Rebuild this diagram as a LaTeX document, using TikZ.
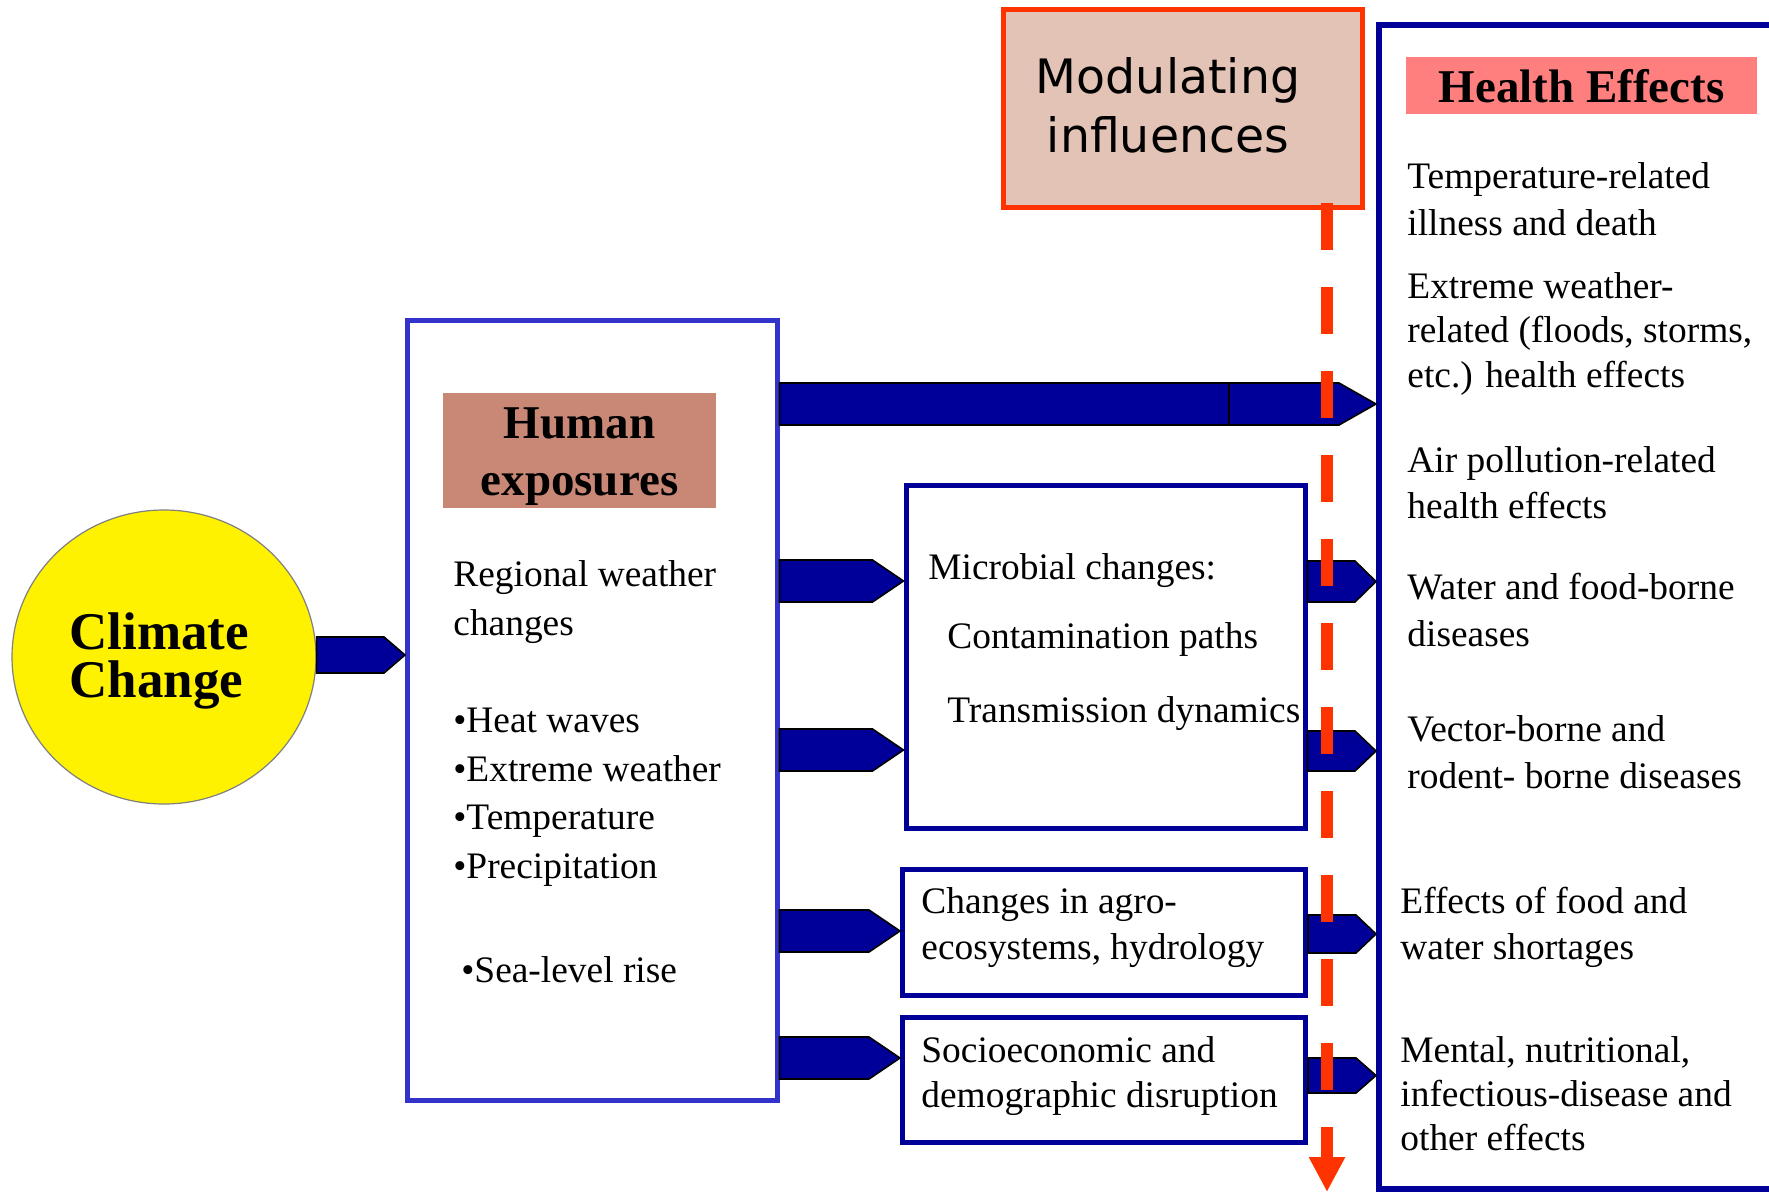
\documentclass[tikz,border=0pt]{standalone}
\usepackage{fontspec}
\setmainfont{Liberation Serif}
\newfontfamily\modfont{DejaVu Sans}
\usetikzlibrary{arrows.meta, calc, shapes.geometric}
\definecolor{ArrowNavy}{RGB}{0,0,153}
\definecolor{ExpoBlue}{RGB}{51,51,204}
\definecolor{ExpoTan}{RGB}{201,136,118}
\definecolor{HealthPink}{RGB}{255,127,127}
\definecolor{ModFill}{RGB}{227,195,181}
\definecolor{ModRed}{RGB}{255,51,0}

\begin{document}
\begin{tikzpicture}[
  x=0.5pt, y=-0.5pt,
  every node/.style={inner sep=0pt},
  body/.style={font=\fontsize{18.7}{#1}\selectfont, align=left, anchor=base west},
  body/.default=23pt,
  heading/.style={font=\fontsize{23.5}{28.5}\selectfont\bfseries, align=center, anchor=base},
  panel/.style args={#1, #2}{draw=#1, line width=#2},
  flow/.style 2 args={fill=ArrowNavy, draw=black, line width=0.8pt, line join=miter,
    to path={($(\tikztostart)+(0,-#1)$) -- ($(\tikztotarget)+(-#2,-#1)$) -- (\tikztotarget)
      -- ($(\tikztotarget)+(-#2,#1)$) -- ($(\tikztostart)+(0,#1)$) -- cycle}},
  modline/.style={draw=ModRed, line width=6pt, dash pattern=on 23.5pt off 18.5pt,
    -{Triangle[length=17.5pt, width=17pt]}}
  ]
\useasboundingbox (0,0) rectangle (1769,1194);
\fill[white] (0,0) rectangle (1769,1194);
\clip (0,0) rectangle (1769,1194);

% Climate change
\node[ellipse, fill=yellow, draw=gray, line width=0.6pt, minimum width=152pt, minimum height=147pt] (climate) at (164,657) {};
\node[font=\fontsize{26.5}{24}\selectfont\bfseries, align=left, anchor=base west] (cctext) at (69,697) {Climate\\Change};

% Human exposures
\node[panel={ExpoBlue, 2.5pt}, minimum width=184.75pt, minimum height=390pt] (expo) at (592.25,710) {};
\node[fill=ExpoTan, minimum width=136.5pt, minimum height=57.5pt] (expolabel) at (579.5,450.5) {};
\node[heading] (expotext) at (579.5,495) {Human\\exposures};
\node[body=24.5pt] (weather) at (453,635) {Regional weather\\changes};
\node[body=24.25pt] (hazards) at (453,878) {•Heat waves\\•Extreme weather\\•Temperature\\•Precipitation};
\node[body] (sealevel) at (461,982) {•Sea-level rise};

% Middle boxes
\node[panel={ArrowNavy, 2.5pt}, minimum width=199.5pt, minimum height=171.5pt] (micro) at (1105.5,656.5) {};
\node[body] (microtext) at (928,579) {Microbial changes:};
\node[body] (paths) at (947,648) {Contamination paths};
\node[body] (dynamics) at (947,722) {Transmission dynamics};

\node[panel={ArrowNavy, 2.5pt}, minimum width=201.5pt, minimum height=63pt] (agro) at (1104,932) {};
\node[body] (agrotext) at (921,959) {Changes in agro-\\ecosystems, hydrology};

\node[panel={ArrowNavy, 2.5pt}, minimum width=201.5pt, minimum height=62.5pt] (socio) at (1104,1079.5) {};
\node[body=22.5pt] (sociotext) at (921,1107) {Socioeconomic and\\demographic disruption};

% Modulating influences
\node[panel={ModRed, 2.5pt}, fill=ModFill, minimum width=179.5pt, minimum height=99pt] (modul) at (1182.5,108) {};
\node[font=\modfont\fontsize{23.7}{29.5}\selectfont, align=center, anchor=base] (modtext) at (1168,152) {Modulating\\influences};

% Health effects
\node[panel={ArrowNavy, 3pt}, minimum width=260.5pt, minimum height=582pt] (health) at (1639.5,607) {};
\node[fill=HealthPink, minimum width=175.5pt, minimum height=28.5pt] (healthlabel) at (1581.5,85.5) {};
\node[heading] (healthtext) at (1581.5,102) {Health Effects};
\node[body=23.5pt] (h1) at (1407,235) {Temperature-related\\illness and death};
\node[body=22.25pt] (h2) at (1407,387) {Extreme weather-\\related (floods, storms,\\etc.) health effects};
\node[body] (h3) at (1407,518) {Air pollution-related\\health effects};
\node[body=23.5pt] (h4) at (1407,646) {Water and food-borne\\diseases};
\node[body=23.5pt] (h5) at (1407,788) {Vector-borne and\\rodent- borne diseases};
\node[body] (h6) at (1400,959) {Effects of food and\\water shortages};
\node[body=22pt] (h7) at (1400,1150) {Mental, nutritional,\\infectious-disease and\\other effects};

% Arrows
\draw[flow={18}{21}] (climate.east |- 0,655) to (expo.west |- 0,655);
\draw[flow={21}{37}] (expo.east |- 0,404) to (health.west |- 0,404);
\draw[line width=0.8pt] ($(health.west |- 0,404)+(-147,-21)$) -- ++(0,42);
\draw[flow={21}{31}] (expo.east |- 0,581) to (micro.west |- 0,581);
\draw[flow={21}{31}] (expo.east |- 0,750) to (micro.west |- 0,750);
\draw[flow={21}{31}] (expo.east |- 0,931) to (agro.west |- 0,931);
\draw[flow={21}{31}] (expo.east |- 0,1058) to (socio.west |- 0,1058);
\draw[flow={20.5}{21}] (micro.east |- 0,581.5) to (health.west |- 0,581.5);
\draw[flow={20}{21}] (micro.east |- 0,751) to (health.west |- 0,751);
\draw[flow={19}{20}] (agro.east |- 0,934) to (health.west |- 0,934);
\draw[flow={17.5}{20}] (socio.east |- 0,1075.5) to (health.west |- 0,1075.5);

% Modulating line
\draw[modline] ([yshift=3.5pt]modul.south -| 1327,0) -- (1327,1192);
\end{tikzpicture}
\end{document}
